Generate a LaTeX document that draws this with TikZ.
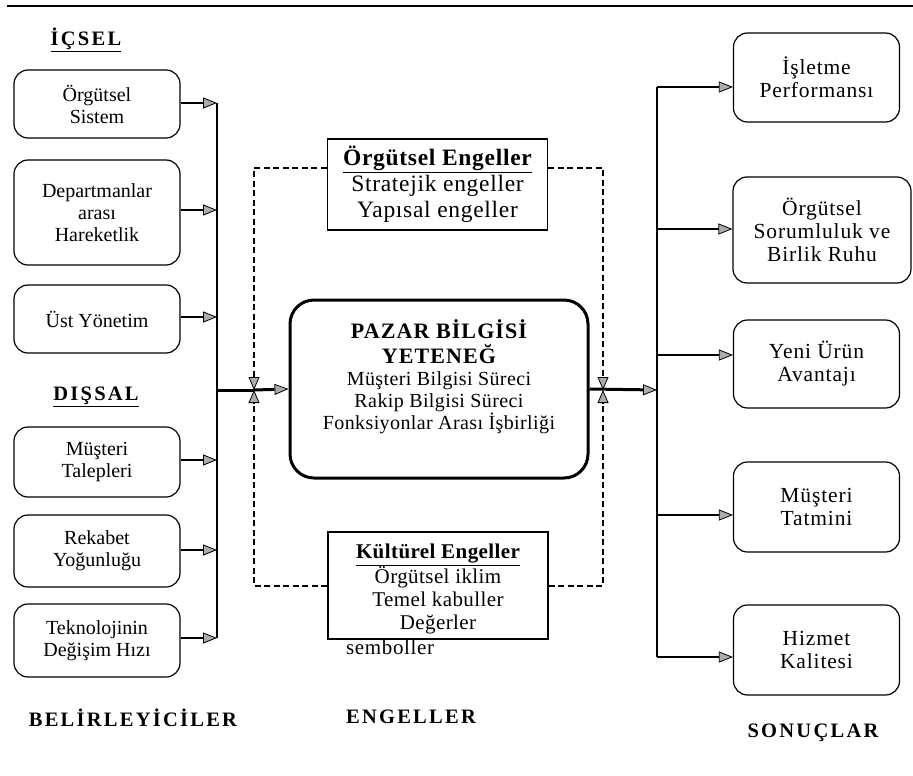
\documentclass[tikz,border=0pt]{standalone}
\usepackage{fontspec}
\setmainfont{Liberation Serif}
\usetikzlibrary{arrows.meta}
\newcommand\cbhead{\bfseries\fontsize{22}{26}\selectfont\addfontfeatures{LetterSpace=5}}
\tikzset{
  tip/.style={-{Triangle[length=14pt,width=11pt,fill=gray!65,line width=0.8pt]}},
  txt/.style={font=\fontsize{20}{22}\selectfont, align=center, inner sep=0pt},
  rtxt/.style={font=\fontsize{21.5}{23}\selectfont\addfontfeatures{LetterSpace=4}, align=center, inner sep=0pt},
  sbox/.style={txt, draw, line width=1.2pt, rounded corners=14pt, minimum width=166pt},
  rbox/.style={sbox, rtxt},
  ebox/.style={txt, draw, line width=1.2pt, minimum width=220pt},
  cbox/.style={draw, line width=3pt, rounded corners=24pt, minimum width=298pt, minimum height=178pt},
  title/.style={font=\bfseries\fontsize{20.5}{24}\selectfont\addfontfeatures{LetterSpace=11}, inner sep=0pt},
  feed/.style={tip, line width=2.2pt},
  mainarrow/.style={tip, line width=3pt},
  bus/.style={line width=1.6pt},
  dsh/.style={-{Triangle[length=13pt,width=11pt,fill=gray!65,line width=0.8pt]}, line width=1.6pt, dash pattern=on 6pt off 3.5pt},
  rule/.style={line width=1.5pt}
}
\begin{document}
\begin{tikzpicture}[x=1pt, y=-1pt]
\useasboundingbox (0,0) rectangle (913,776);

% top rule
\coordinate (ruleA) at (7,6);
\coordinate (ruleB) at (913,6);
\draw[rule] (ruleA) -- (ruleB);

% titles
\node[title] (icsel) at (86,40) {\underline{İÇSEL}};
\node[title] (dissal) at (96,397) {\underline{DIŞSAL}};
\node[title] (belir) at (133,718) {BELİRLEYİCİLER};
\node[title] (engel) at (411,717) {ENGELLER};
\node[title] (sonuc) at (813,733) {SONUÇLAR};

% left boxes
\node[sbox, minimum height=68pt]  (l1) at (97,104)   {Örgütsel\\Sistem};
\node[sbox, minimum height=105pt] (l2) at (97,212.5) {Departmanlar\\arası\\Hareketlik};
\node[sbox, minimum height=68pt]  (l3) at (97,319)   {Üst Yönetim};
\node[sbox, minimum height=70pt]  (l4) at (97,462)   {Müşteri\\Talepleri};
\node[sbox, minimum height=72pt]  (l5) at (97,551)   {Rekabet\\Yoğunluğu};
\node[sbox, minimum height=73pt]  (l6) at (97,640.5) {Teknolojinin\\Değişim Hızı};

% right boxes
\node[rbox, minimum height=89pt]  (r1) at (816.5,77.5) {İşletme\\Performansı};
\node[rbox, minimum height=106pt, minimum width=178pt] (r2) at (822,230) {Örgütsel\\Sorumluluk ve\\Birlik Ruhu};
\node[rbox, minimum height=88pt]  (r3) at (816.5,364) {Yeni Ürün\\Avantajı};
\node[rbox, minimum height=90pt]  (r4) at (816.5,507) {Müşteri\\Tatmini};
\node[rbox, minimum height=90pt]  (r5) at (816.5,650) {Hizmet\\Kalitesi};

% centre box
\node[cbox] (cb) at (439,389) {};
\node[txt, font=\fontsize{20}{22}\selectfont\addfontfeatures{LetterSpace=2}] (cbt) at (439,377) {{\cbhead PAZAR BİLGİSİ}\\[3pt]{\cbhead YETENEĞ}\\Müşteri Bilgisi Süreci\\Rakip Bilgisi Süreci\\Fonksiyonlar Arası İşbirliği};

% barrier boxes
\node[ebox, minimum height=91pt, font=\fontsize{23.5}{26}\selectfont\addfontfeatures{LetterSpace=3}] (oe) at (437.5,184.5) {\textbf{\underline{Örgütsel Engeller}}\\Stratejik engeller\\Yapısal engeller};
\node[ebox, minimum height=107pt] (ke) at (438,585.5) {};
\node[txt, font=\fontsize{21}{23}\selectfont\addfontfeatures{LetterSpace=2}] (ket) at (438,589) {\textbf{\underline{Kültürel Engeller}}\\Örgütsel iklim\\Temel kabuller\\Değerler};
\node[txt, anchor=west, font=\fontsize{21}{23}\selectfont\addfontfeatures{LetterSpace=3}] (semb) at (346,647) {semboller};

% key coordinates
\coordinate (lbus) at (217,390);
\coordinate (lx) at (254,390);
\coordinate (rx) at (603,390);
\coordinate (rbus) at (657,390);
\coordinate (dtl) at (254,168);
\coordinate (dbl) at (254,586);
\coordinate (dtr) at (603,168);
\coordinate (dbr) at (603,586);

\coordinate (la1) at (217,103);
\coordinate (la2) at (217,210);
\coordinate (la3) at (217,317);
\coordinate (la4) at (217,460);
\coordinate (la5) at (217,550);
\coordinate (la6) at (217,638);

\coordinate (ra1) at (657,87);
\coordinate (ra2) at (657,229);
\coordinate (ra3) at (657,355);
\coordinate (ra4) at (657,515);
\coordinate (ra5) at (657,657);

% left feeders and bus
\draw[bus] (la1) -- (la6);
\foreach \i in {1,...,6} {
  \draw[feed] (la\i -| l\i.east) -- (la\i);
}

% right bus and outputs
\draw[bus] (ra1) -- (ra5);
\foreach \i in {1,...,5} {
  \draw[feed] (ra\i) -- (ra\i -| r\i.west);
}

% main flow
\draw[line width=3pt] (lbus) -- (lx);
\draw[mainarrow] (lx) -- (cb.west);
\draw[mainarrow] (cb.east) -- (rbus);

% dashed barrier paths
\draw[dsh] (dtl -| oe.west) -- (dtl) -- (lx);
\draw[dsh] (dbl -| ke.west) -- (dbl) -- (lx);
\draw[dsh] (dtr -| oe.east) -- (dtr) -- (rx);
\draw[dsh] (dbr -| ke.east) -- (dbr) -- (rx);
\end{tikzpicture}
\end{document}
